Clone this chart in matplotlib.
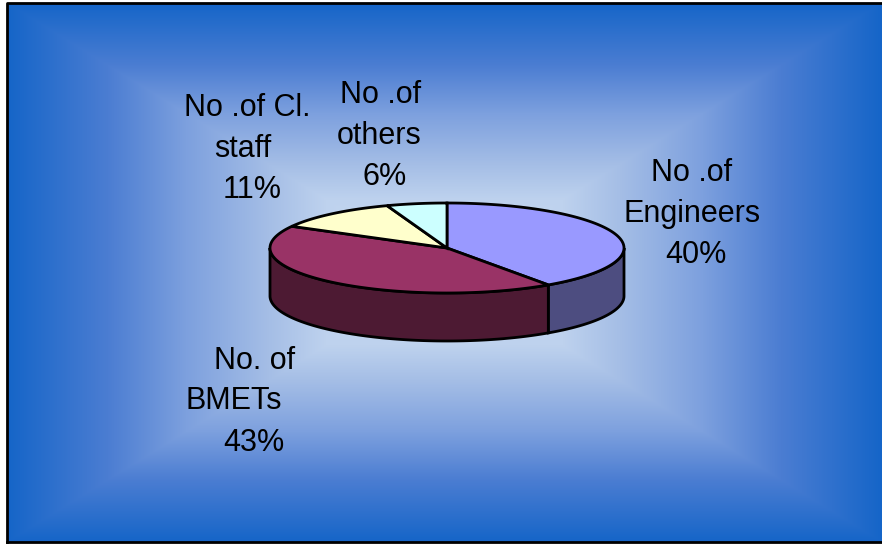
import numpy as np
from matplotlib import pyplot as plt

categories = ["No .of Engineers", "No. of BMETs", "No .of Cl. staff", "No .of others"]
shares = [40.3, 42.7, 11.5, 5.5]
top_colors = ["#9999ff", "#993366", "#ffffcc", "#ccffff"]
side_colors = ["#4d4d80", "#4d1a33", "#808066", "#668080"]

label_lines = [
    ["No .of", "Engineers", "40%"],
    ["No. of", "BMETs", "43%"],
    ["No .of Cl.", "staff", "11%"],
    ["No .of", "others", "6%"],
]
label_x = [[692, 692, 696], [255, 234, 254], [247, 243, 252], [381, 379, 385]]
label_y = [[181, 222, 263], [369, 409, 451], [116, 157, 198], [103, 144, 185]]

W, H = 882, 544
CX, CY, RX, RY, DEPTH = 447, 248, 177, 45, 48
LW = 2.0

plt.rcParams["font.family"] = ["Liberation Sans", "DejaVu Sans"]


def rim(a0, a1, dy=0):
    # points on the ellipse, angle in degrees clockwise from the top
    t = np.radians(np.linspace(a0, a1, 200))
    return CX + RX * np.sin(t), CY - RY * np.cos(t) + dy


def background(ax):
    left, top, right, bottom = 7, 3, W, 542
    xx, yy = np.meshgrid(np.arange(left, right) + 0.5, np.arange(top, bottom) + 0.5)
    u = np.abs(xx - (left + right) / 2) / ((right - left) / 2)
    v = np.abs(yy - (top + bottom) / 2) / ((bottom - top) / 2)
    t = np.maximum(u, v)
    stops = [0, 0.27, 0.40, 0.59, 0.77, 1]
    colors = np.array([[205, 222, 245], [190, 210, 238], [165, 190, 230],
                       [125, 160, 222], [75, 125, 210], [21, 101, 200]])
    img = np.dstack([np.interp(t, stops, colors[:, i]) for i in range(3)]) / 255
    ax.imshow(img, extent=(left, right, bottom, top), aspect="auto", zorder=0)
    ax.plot([left, left, right], [bottom, top, top], color="black", lw=2, zorder=1)
    ax.plot([left, right], [bottom, bottom], color="black", lw=2, zorder=1)


def main():
    fig = plt.figure(figsize=(W / 100, H / 100), dpi=100)
    ax = fig.add_axes([0, 0, 1, 1])
    background(ax)

    edges = np.cumsum([0] + shares) * 360 / sum(shares)

    # side wall, only the front half shows
    for a0, a1, side in zip(edges[:-1], edges[1:], side_colors):
        lo, hi = max(a0, 90), min(a1, 270)
        if lo >= hi:
            continue
        x, y = rim(lo, hi)
        xb, yb = rim(hi, lo, DEPTH)
        ax.fill(np.r_[x, xb], np.r_[y, yb], facecolor=side, edgecolor="black", lw=LW, zorder=2)

    # top face
    for a0, a1, top in zip(edges[:-1], edges[1:], top_colors):
        x, y = rim(a0, a1)
        ax.fill(np.r_[CX, x], np.r_[CY, y], facecolor=top, edgecolor="black", lw=LW, zorder=3)

    for lines, xs, ys in zip(label_lines, label_x, label_y):
        for s, x, y in zip(lines, xs, ys):
            ax.text(x, y, s, fontsize=22, ha="center", va="baseline", color="black", zorder=4)

    ax.set_xlim(0, W)
    ax.set_ylim(H, 0)
    ax.axis("off")
    fig.savefig("out.png", dpi=100, facecolor="white")


if __name__ == "__main__":
    main()
